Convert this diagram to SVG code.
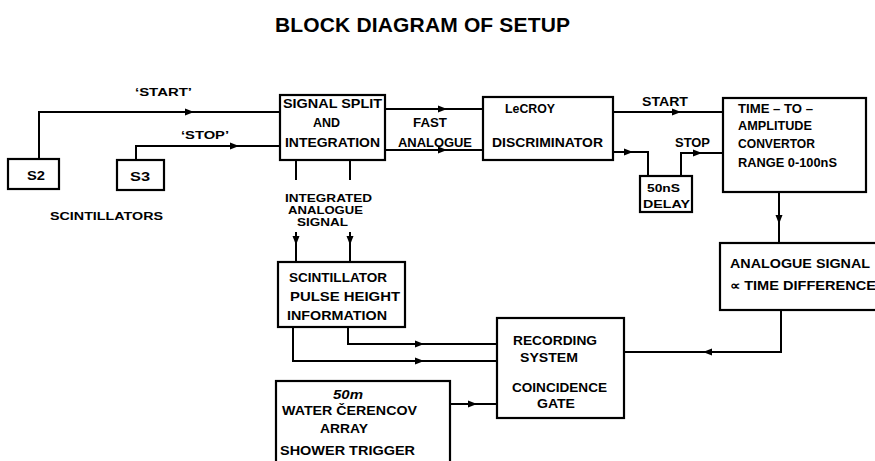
<svg xmlns="http://www.w3.org/2000/svg" xmlns:xlink="http://www.w3.org/1999/xlink" width="875" height="461" viewBox="0 0 875 461">
<style>
  .box { fill: #fff; stroke: #000; stroke-width: 2.2; }
  .ln { fill: none; stroke: #000; stroke-width: 2; stroke-linejoin: miter; }
  text { font-family: "Liberation Sans", Arial, sans-serif; font-weight: bold; fill: #000; }
  .t { font-size: 13px; }
  .s { font-size: 11.5px; }
  .xs { font-size: 10.5px; }
  .title { font-size: 21px; }
</style>
<defs>
  <path id="ah" d="M-5,-3.5 L4,0 L-5,3.5 Z" fill="#000"/>
</defs>
<rect width="875" height="461" fill="#fff"/>

<text class="title" x="275" y="32" textLength="295" lengthAdjust="spacing">BLOCK DIAGRAM OF SETUP</text>

<g id="connectors">
  <path class="ln" d="M39,159 V112 H280"/>
  <path class="ln" d="M136,160 V146 H280"/>
  <path class="ln" d="M385,109 H483"/>
  <path class="ln" d="M385,150 H483"/>
  <path class="ln" d="M613,112 H723"/>
  <path class="ln" d="M613,152 H648 V176"/>
  <path class="ln" d="M681,176 V153 H723"/>
  <path class="ln" d="M779,192 V243"/>
  <path class="ln" d="M781,310 V352 H624"/>
  <path class="ln" d="M296,160 V180"/>
  <path class="ln" d="M350,160 V180"/>
  <path class="ln" d="M296,232 V262"/>
  <path class="ln" d="M350,232 V262"/>
  <path class="ln" d="M348,327 V344 H497"/>
  <path class="ln" d="M293,327 V361 H497"/>
  <path class="ln" d="M450,404 H497"/>
  <use xlink:href="#ah" transform="translate(190,112)"/>
  <use xlink:href="#ah" transform="translate(235,146)"/>
  <use xlink:href="#ah" transform="translate(443,109)"/>
  <use xlink:href="#ah" transform="translate(443,150)"/>
  <use xlink:href="#ah" transform="translate(677,112)"/>
  <use xlink:href="#ah" transform="translate(629,152)"/>
  <use xlink:href="#ah" transform="translate(698,153)"/>
  <use xlink:href="#ah" transform="translate(779,220) rotate(90)"/>
  <use xlink:href="#ah" transform="translate(707,352) rotate(180)"/>
  <use xlink:href="#ah" transform="translate(296,241) rotate(90)"/>
  <use xlink:href="#ah" transform="translate(350,241) rotate(90)"/>
  <use xlink:href="#ah" transform="translate(420,344)"/>
  <use xlink:href="#ah" transform="translate(420,361)"/>
  <use xlink:href="#ah" transform="translate(473,404)"/>
</g>

<g id="labels">
  <text class="s" x="135" y="96" textLength="57" lengthAdjust="spacingAndGlyphs">‘START’</text>
  <text class="s" x="181" y="139" textLength="48" lengthAdjust="spacingAndGlyphs">‘STOP’</text>
  <text class="t" x="413" y="127" textLength="34" lengthAdjust="spacingAndGlyphs">FAST</text>
  <text class="t" x="398" y="147" textLength="74" lengthAdjust="spacingAndGlyphs">ANALOGUE</text>
  <text class="t" x="642" y="106" textLength="46" lengthAdjust="spacingAndGlyphs">START</text>
  <text class="t" x="675" y="147" textLength="35" lengthAdjust="spacingAndGlyphs">STOP</text>
  <text class="xs" x="285" y="202" textLength="87" lengthAdjust="spacingAndGlyphs">INTEGRATED</text>
  <text class="xs" x="288" y="214" textLength="75" lengthAdjust="spacingAndGlyphs">ANALOGUE</text>
  <text class="xs" x="297" y="226" textLength="51" lengthAdjust="spacingAndGlyphs">SIGNAL</text>
  <text class="s" x="50" y="220" textLength="113" lengthAdjust="spacingAndGlyphs">SCINTILLATORS</text>
</g>

<g id="s2">
  <rect class="box" x="8" y="159" width="51" height="30"/>
  <text class="t" x="27" y="180" textLength="18" lengthAdjust="spacingAndGlyphs">S2</text>
</g>
<g id="s3">
  <rect class="box" x="117" y="160" width="47" height="30"/>
  <text class="t" x="130" y="181" textLength="20" lengthAdjust="spacingAndGlyphs">S3</text>
</g>
<g id="split">
  <rect class="box" x="280" y="95" width="105" height="65"/>
  <text class="t" x="283" y="108" textLength="99" lengthAdjust="spacingAndGlyphs">SIGNAL SPLIT</text>
  <text class="t" x="313" y="127" textLength="27" lengthAdjust="spacingAndGlyphs">AND</text>
  <text class="t" x="285" y="147" textLength="95" lengthAdjust="spacingAndGlyphs">INTEGRATION</text>
</g>
<g id="lecroy">
  <rect class="box" x="483" y="97" width="130" height="63"/>
  <text class="t" x="505" y="113" textLength="50" lengthAdjust="spacingAndGlyphs">LeCROY</text>
  <text class="t" x="492" y="147" textLength="111" lengthAdjust="spacingAndGlyphs">DISCRIMINATOR</text>
</g>
<g id="delay">
  <rect class="box" x="640" y="176" width="52" height="36"/>
  <text class="s" x="647" y="192" textLength="33" lengthAdjust="spacingAndGlyphs">50nS</text>
  <text class="s" x="643" y="208" textLength="47" lengthAdjust="spacingAndGlyphs">DELAY</text>
</g>
<g id="tac">
  <rect class="box" x="723" y="98" width="143" height="94"/>
  <text class="t" x="738" y="113" textLength="75" lengthAdjust="spacingAndGlyphs">TIME – TO –</text>
  <text class="t" x="738" y="130" textLength="74" lengthAdjust="spacingAndGlyphs">AMPLITUDE</text>
  <text class="t" x="738" y="148" textLength="77" lengthAdjust="spacingAndGlyphs">CONVERTOR</text>
  <text class="t" x="738" y="167" textLength="99" lengthAdjust="spacingAndGlyphs">RANGE 0-100nS</text>
</g>
<g id="analogue">
  <rect class="box" x="720" y="243" width="162" height="67"/>
  <text class="t" x="730" y="268" textLength="140" lengthAdjust="spacingAndGlyphs">ANALOGUE SIGNAL</text>
  <text class="t" x="730" y="290" textLength="146" lengthAdjust="spacingAndGlyphs">∝ TIME DIFFERENCE</text>
</g>
<g id="scint">
  <rect class="box" x="278" y="262" width="127" height="65"/>
  <text class="t" x="289" y="282" textLength="98" lengthAdjust="spacingAndGlyphs">SCINTILLATOR</text>
  <text class="t" x="290" y="301" textLength="110" lengthAdjust="spacingAndGlyphs">PULSE HEIGHT</text>
  <text class="t" x="287" y="320" textLength="100" lengthAdjust="spacingAndGlyphs">INFORMATION</text>
</g>
<g id="recording">
  <rect class="box" x="497" y="318" width="127" height="100"/>
  <text class="t" x="513" y="345" textLength="84" lengthAdjust="spacingAndGlyphs">RECORDING</text>
  <text class="t" x="520" y="362" textLength="58" lengthAdjust="spacingAndGlyphs">SYSTEM</text>
  <text class="t" x="512" y="392" textLength="95" lengthAdjust="spacingAndGlyphs">COINCIDENCE</text>
  <text class="t" x="537" y="408" textLength="38" lengthAdjust="spacingAndGlyphs">GATE</text>
</g>
<g id="cerenkov">
  <rect class="box" x="276" y="381" width="174" height="95"/>
  <text class="t" x="333" y="399" font-style="italic" textLength="30" lengthAdjust="spacingAndGlyphs">50m</text>
  <text class="t" x="282" y="415" textLength="135" lengthAdjust="spacingAndGlyphs">WATER ČERENCOV</text>
  <text class="t" x="320" y="433" textLength="48" lengthAdjust="spacingAndGlyphs">ARRAY</text>
  <text class="t" x="280" y="455" textLength="135" lengthAdjust="spacingAndGlyphs">SHOWER TRIGGER</text>
</g>
</svg>
